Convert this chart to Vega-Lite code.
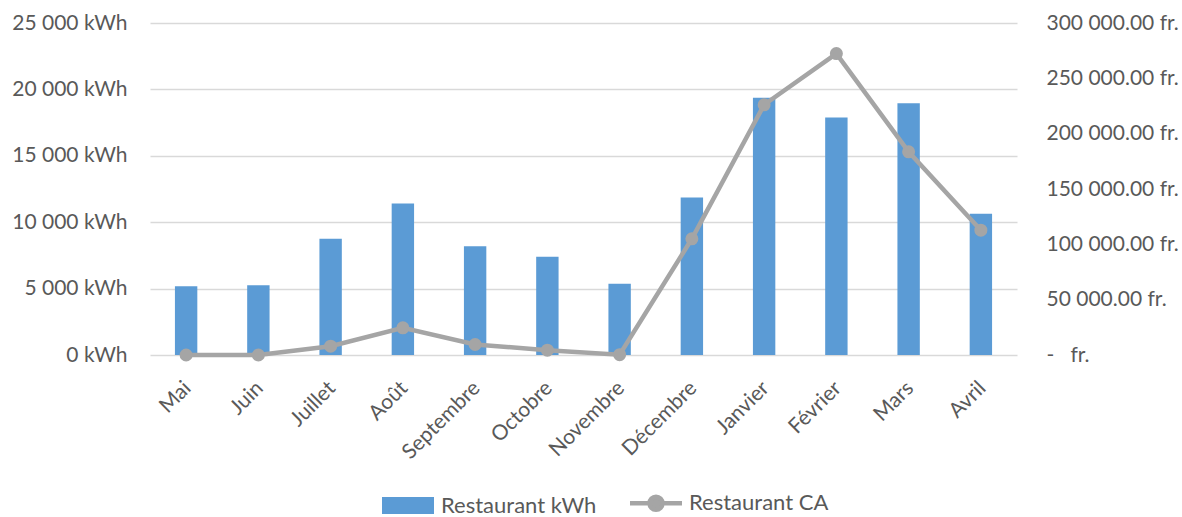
{
  "$schema": "https://vega.github.io/schema/vega-lite/v6.json",
  "width": 867,
  "height": 332,
  "autosize": {"type": "none"},
  "padding": {"left": 150, "top": 23, "right": 165, "bottom": 162},
  "background": "white",
  "config": {
    "font": "Lato",
    "view": {"stroke": null},
    "axis": {"labelFont": "Lato", "labelFontSize": 21, "labelColor": "#595959", "ticks": false, "domain": false, "gridColor": "#d9d9d9", "gridWidth": 1.5, "title": null}
  },
  "data": {
    "values": [
      {"mois": "Mai", "kwh": 5180, "ca": 0},
      {"mois": "Juin", "kwh": 5260, "ca": 0},
      {"mois": "Juillet", "kwh": 8750, "ca": 7950},
      {"mois": "Août", "kwh": 11410, "ca": 24600},
      {"mois": "Septembre", "kwh": 8190, "ca": 9500},
      {"mois": "Octobre", "kwh": 7390, "ca": 4350},
      {"mois": "Novembre", "kwh": 5360, "ca": 300},
      {"mois": "Décembre", "kwh": 11860, "ca": 105000},
      {"mois": "Janvier", "kwh": 19370, "ca": 226100},
      {"mois": "Février", "kwh": 17880, "ca": 272400},
      {"mois": "Mars", "kwh": 18960, "ca": 183600},
      {"mois": "Avril", "kwh": 10630, "ca": 112800}
    ]
  },
  "encoding": {
    "x": {
      "field": "mois", "type": "nominal", "sort": null,
      "scale": {"paddingInner": 0.69, "paddingOuter": 0.345},
      "axis": {"labelAngle": -45, "labelPadding": 22, "labelOffset": -6, "grid": false, "domain": false}
    }
  },
  "layer": [
    {
      "mark": {"type": "bar"},
      "encoding": {
        "y": {
          "field": "kwh", "type": "quantitative",
          "scale": {"domain": [0, 25000]},
          "axis": {"values": [0, 5000, 10000, 15000, 20000, 25000], "labelPadding": 23, "labelExpr": "replace(format(datum.value, ','), ',', ' ') + ' kWh'", "grid": true}
        },
        "color": {
          "datum": "Restaurant kWh",
          "scale": {"domain": ["Restaurant kWh", "Restaurant CA"], "range": ["#5b9bd5", "#a5a5a5"]},
          "legend": {
            "orient": "none", "legendX": 247, "legendY": 469, "direction": "horizontal", "title": null,
            "labelFont": "Lato", "labelFontSize": 22, "labelColor": "#595959", "labelOffset": 22, "columnPadding": 24,
            "symbolSize": 2704,
            "encode": {
              "symbols": {
                "update": {
                  "shape": {"signal": "datum.value === 'Restaurant CA' ? 'M-1,0H1M-0.25,0A0.25,0.25 0 1,0 0.25,0A0.25,0.25 0 1,0 -0.25,0Z' : 'M-1,-0.33H1V0.33H-1Z'"},
                  "fill": {"signal": "datum.value === 'Restaurant CA' ? '#a5a5a5' : '#5b9bd5'"},
                  "stroke": {"signal": "datum.value === 'Restaurant CA' ? '#a5a5a5' : '#5b9bd5'"},
                  "strokeWidth": {"signal": "datum.value === 'Restaurant CA' ? 4.5 : 0"},
                  "size": {"value": 2704},
                  "opacity": {"value": 1}
                }
              }
            }
          }
        }
      }
    },
    {
      "mark": {"type": "line", "strokeWidth": 4.5, "point": {"filled": true, "size": 170, "opacity": 1}},
      "encoding": {
        "y": {
          "field": "ca", "type": "quantitative",
          "scale": {"domain": [0, 300000]},
          "axis": {"orient": "right", "values": [0, 50000, 100000, 150000, 200000, 250000, 300000], "labelPadding": 29, "grid": false, "labelAlign": "left",
            "labelExpr": "datum.value === 0 ? '-\u00a0\u00a0\u00a0fr.' : replace(format(datum.value, ',.2f'), ',', ' ') + ' fr.'"}
        },
        "color": {"datum": "Restaurant CA"}
      }
    }
  ],
  "resolve": {"scale": {"y": "independent"}}
}
